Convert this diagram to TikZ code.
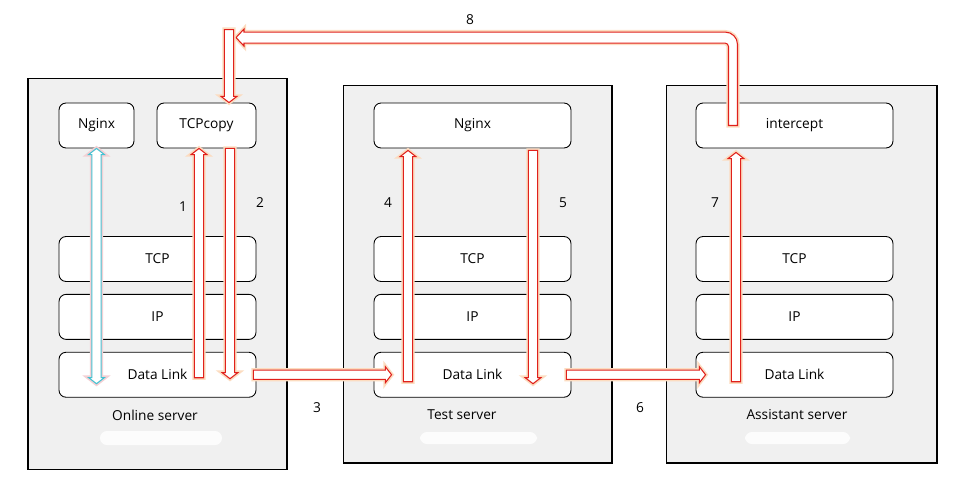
\documentclass[tikz,border=0pt]{standalone}
\usepackage{fontspec}
\setmainfont{Open Sans}
\usepackage{tikz}
\usetikzlibrary{calc,positioning}

\definecolor{arrowred}{HTML}{E0201B}
\definecolor{glowora}{HTML}{FCDCC0}
\definecolor{linkcyan}{HTML}{45C2D2}
\definecolor{glowpink}{HTML}{F3D0D4}

% hollow block arrow from #2 to #3
\newcommand{\blockarrow}[3][]{%
  \coordinate (ba-h) at ($(#3)!3.5pt!(#2)$);
  \path[blockarrow,#1] ($(#2)!2.6pt!90:(#3)$) -- ($(ba-h)!2.6pt!-90:(#2)$)
    -- ($(ba-h)!4.5pt!-90:(#2)$) -- (#3) -- ($(ba-h)!4.5pt!90:(#2)$)
    -- ($(ba-h)!2.6pt!90:(#2)$) -- ($(#2)!2.6pt!-90:(#3)$) -- cycle;}
% same, with a head at both ends
\newcommand{\dblarrow}[3][]{%
  \coordinate (da-h1) at ($(#3)!3.5pt!(#2)$);
  \coordinate (da-h2) at ($(#2)!3.5pt!(#3)$);
  \path[dblarrow,#1] (#2) -- ($(da-h2)!4.5pt!90:(#3)$) -- ($(da-h2)!2.6pt!90:(#3)$)
    -- ($(da-h1)!2.6pt!-90:(#2)$) -- ($(da-h1)!4.5pt!-90:(#2)$) -- (#3)
    -- ($(da-h1)!4.5pt!90:(#2)$) -- ($(da-h1)!2.6pt!90:(#2)$)
    -- ($(da-h2)!2.6pt!-90:(#3)$) -- ($(da-h2)!4.5pt!-90:(#3)$) -- cycle;}

\begin{document}
\begin{tikzpicture}[x=0.02cm,y=-0.02cm,font=\fontsize{7.8}{9}\selectfont,
  server/.style={draw,fill=gray!12,line width=0.6pt,inner sep=0pt},
  layer/.style={draw,fill=white,rounded corners=4pt,minimum width=3.94cm,minimum height=0.9cm,line width=0.5pt,inner sep=0pt},
  blockarrow/.style={draw=arrowred,fill=white,line width=0.6pt,preaction={draw=glowora,line width=2.4pt}},
  dblarrow/.style={draw=linkcyan,fill=white,line width=0.6pt,preaction={draw=glowpink,line width=2.4pt}},
  blur/.style={fill=white,opacity=0.85,rounded corners=4pt}]

  \useasboundingbox (0,0) rectangle (960,491);

  % servers
  \node[server,minimum width=5.18cm,minimum height=7.84cm] (online) at (157.5,274) {};
  \node[server,minimum width=5.38cm,minimum height=7.56cm] (test) at (477.5,274) {};
  \node[server,minimum width=5.42cm,minimum height=7.56cm] (assist) at (801.5,274) {};

  % online server
  \node[layer,minimum width=1.5cm] (nginx1) at (96.5,125.5) {Nginx};
  \node[layer,minimum width=1.98cm] (tcpcopy) at (206.5,125.5) {TCPcopy};
  \node[layer] (tcp1) at (157.5,259) {TCP};
  \node[layer,below=0.24cm of tcp1] (ip1) {IP};
  \node[layer,below=0.24cm of ip1] (dl1) {Data Link};

  % test server
  \node[layer] (nginx2) at (472.5,125.5) {Nginx};
  \node[layer] (tcp2) at (472.5,259) {TCP};
  \node[layer,below=0.24cm of tcp2] (ip2) {IP};
  \node[layer,below=0.24cm of ip2] (dl2) {Data Link};

  % assistant server
  \node[layer] (icp) at (794.5,125.5) {intercept};
  \node[layer] (tcp3) at (794.5,259) {TCP};
  \node[layer,below=0.24cm of tcp3] (ip3) {IP};
  \node[layer,below=0.24cm of ip3] (dl3) {Data Link};

  \node (lab1) at (155,415) {Online server};
  \node (lab2) at (462,415) {Test server};
  \node (lab3) at (797,415) {Assistant server};
  \fill[blur] (100,431) rectangle (222,445);
  \fill[blur] (420,432) rectangle (537,444);
  \fill[blur] (745,432) rectangle (850,444);

  % end points
  \coordinate (d0s) at (nginx1.south);
  \coordinate (d0e) at ($(d0s |- dl1.center)+(0,9)$);
  \coordinate (a1e) at ($(tcpcopy.south)+(-7.5,0)$);
  \coordinate (a1s) at ($(a1e |- dl1.center)+(0,3)$);
  \coordinate (a2s) at ($(tcpcopy.south)+(23.5,0)$);
  \coordinate (a2e) at ($(a2s |- dl1.center)+(0,4)$);
  \coordinate (a3s) at ($(dl1.east)+(-3,0)$);
  \coordinate (a3e) at ($(dl2.west)+(18,0)$);
  \coordinate (a4e) at ($(nginx2.south)+(-64.5,2)$);
  \coordinate (a4s) at ($(a4e |- dl2.center)+(0,7)$);
  \coordinate (a5s) at ($(nginx2.south)+(60.5,2)$);
  \coordinate (a5e) at ($(a5s |- dl2.center)+(0,9)$);
  \coordinate (a6s) at ($(dl2.east)+(-5,0)$);
  \coordinate (a6e) at ($(dl3.west)+(10,0)$);
  \coordinate (a7e) at ($(icp.south)+(-58.5,4)$);
  \coordinate (a7s) at ($(a7e |- dl3.center)+(0,7)$);
  \coordinate (a8s) at ($(tcpcopy.north)+(22.5,-73)$);
  \coordinate (a8e) at ($(tcpcopy.north)+(22.5,0)$);
  \coordinate (b8s) at ($(icp.center)+(-61.5,0)$);
  \coordinate (b8e) at ($(tcpcopy.north)+(29.5,-65)$);

  % arrows
  \dblarrow{d0s}{d0e}
  \blockarrow{a1s}{a1e}
  \blockarrow{a2s}{a2e}
  \blockarrow{a3s}{a3e}
  \blockarrow{a4s}{a4e}
  \blockarrow{a5s}{a5e}
  \blockarrow{a6s}{a6e}
  \blockarrow{a7s}{a7e}
  \path[blockarrow] ($(b8s)+(-4.5,0)$) [rounded corners=2pt] -- ($(b8s |- b8e)+(-4.5,5.5)$) [sharp corners]
    -- ($(b8e)+(8,5.5)$) -- ($(b8e)+(8,8.5)$) -- (b8e) -- ($(b8e)+(8,-8.5)$) -- ($(b8e)+(8,-5.5)$)
    [rounded corners=7pt] -- ($(b8s |- b8e)+(4.5,-5.5)$) [sharp corners] -- ($(b8s)+(4.5,0)$) -- cycle;
  \blockarrow{a8s}{a8e}

  % step numbers
  \node (n1) at (183,207) {1};
  \node (n2) at (260,203) {2};
  \node (n3) at (317,408) {3};
  \node (n4) at (388,203) {4};
  \node (n5) at (563,203) {5};
  \node (n6) at (640,408) {6};
  \node (n7) at (715,203) {7};
  \node (n8) at (470,20) {8};
\end{tikzpicture}
\end{document}
